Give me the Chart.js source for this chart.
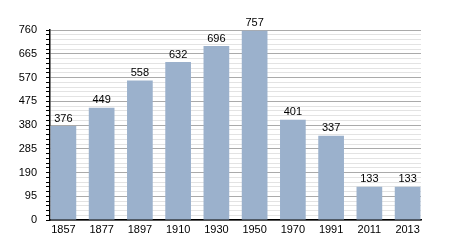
<!DOCTYPE html>
<html lang="en">
<head>
    <meta charset="UTF-8">
    <script src="https://cdn.jsdelivr.net/npm/chart.js"></script>
    <title>Population</title>
    <style>
        body { margin: 0; background: #fff; }
        #wrap { width: 450px; height: 250px; }
    </style>
</head>
<body>
    <div id="wrap"><canvas id="myChartCanvas"></canvas></div>
<script>
    const anos = ['1857', '1877', '1897', '1910', '1930', '1950', '1970', '1991', '2011', '2013'];
    const populacao = [376, 449, 558, 632, 696, 757, 401, 337, 133, 133];
    const yMax = 760;
    const passoMaior = 95;
    const passoMenor = 19;

    const fonte = '"Liberation Sans", Arial, sans-serif';

    // escreve o valor em cima de cada barra
    const rotulos = {
        id: 'rotulos',
        afterDatasetsDraw(chart) {
            const ctx = chart.ctx;
            ctx.save();
            ctx.font = '11px ' + fonte;
            ctx.fillStyle = '#000';
            ctx.textAlign = 'center';
            ctx.textBaseline = 'bottom';
            chart.getDatasetMeta(0).data.forEach(function (bar, i) {
                ctx.fillText(populacao[i], bar.x, bar.y - 2);
            });
            ctx.restore();
        }
    };

    // eixo x linear para as barras encostarem nas bordas
    let pontos = [];
    for (let i = 0; i < populacao.length; i++) {
        pontos.push({ x: i, y: populacao[i] });
    }

    const config = {
        type: 'bar',
        data: {
            datasets: [{
                data: pontos,
                backgroundColor: '#9bb1cc',
                borderWidth: 0,
                categoryPercentage: 1,
                barPercentage: 0.672
            }]
        },
        options: {
            responsive: true,
            maintainAspectRatio: false,
            animation: false,
            layout: { padding: { top: 30, right: 29, left: 0, bottom: 0 } },
            plugins: {
                legend: { display: false },
                tooltip: { enabled: false }
            },
            scales: {
                x: {
                    type: 'linear',
                    offset: false,
                    min: -0.35,
                    max: populacao.length - 0.65,
                    grid: { display: false, drawTicks: false },
                    border: { color: '#000', width: 1.5 },
                    afterBuildTicks(scale) {
                        scale.ticks = anos.map(function (a, i) { return { value: i }; });
                    },
                    ticks: {
                        autoSkip: false,
                        color: '#000',
                        font: { family: fonte, size: 11 },
                        maxRotation: 0,
                        padding: 3,
                        callback: function (v) {
                            return anos[v] || '';
                        }
                    },
                    afterFit(scale) { scale.height = 30; }
                },
                y: {
                    min: 0,
                    max: yMax,
                    border: { color: '#000', width: 1.5 },
                    grid: {
                        color: function (c) {
                            return Math.round(c.tick.value) % passoMaior === 0 ? '#aaaaaa' : '#e3e3e3';
                        },
                        tickColor: '#000',
                        tickLength: 4
                    },
                    ticks: {
                        stepSize: passoMenor,
                        autoSkip: false,
                        color: '#000',
                        font: { family: fonte, size: 11 },
                        padding: 9,
                        callback: function (v) {
                            return Math.round(v) % passoMaior === 0 ? Math.round(v) : '';
                        }
                    },
                    afterFit(scale) { scale.width = 50; }
                }
            }
        },
        plugins: [rotulos]
    };

    let myChart = new Chart(document.getElementById('myChartCanvas'), config);
</script>
</body>
</html>
